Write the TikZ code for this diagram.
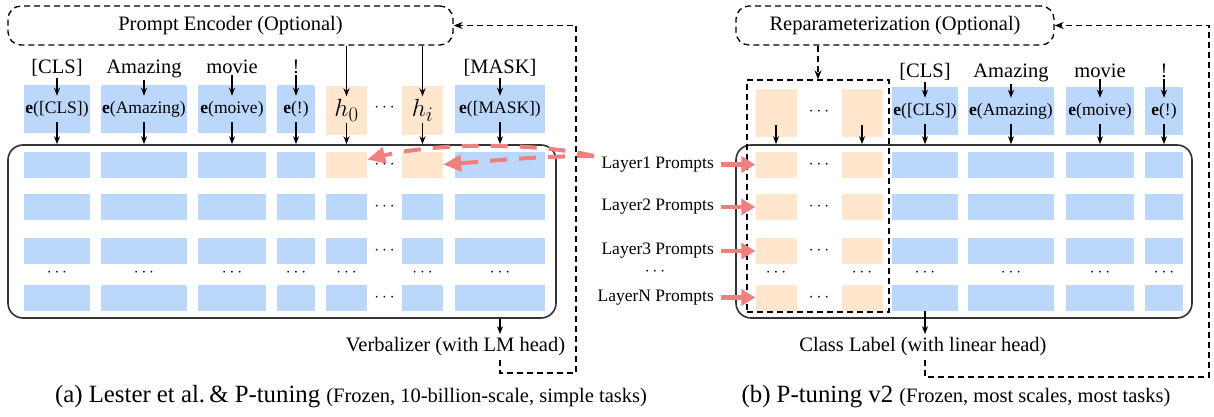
\documentclass[tikz,border=0pt]{standalone}
\usepackage{fontspec}
\setmainfont{Liberation Serif}
\usetikzlibrary{arrows.meta}
\definecolor{cellblue}{RGB}{187,215,251}
\definecolor{cellorange}{RGB}{255,230,204}
\definecolor{promptred}{RGB}{240,128,128}
\tikzset{
  cell/.style={fill=cellblue, inner sep=0pt, minimum height=26pt},
  embbox/.style={fill=cellblue, inner sep=0pt, minimum height=48pt, font=\fontsize{17.5}{20}\selectfont},
  tok/.style={font=\fontsize{20.5}{24}\selectfont, anchor=base, inner sep=1pt},
  lay/.style={font=\fontsize{17.5}{20}\selectfont, inner sep=2pt},
  dots/.style={font=\fontsize{17}{20}\selectfont, inner sep=0pt},
  frame/.style={draw=black!80, line width=1.6pt, rounded corners=15pt, inner sep=0pt},
  dashline/.style={dash pattern=on 6pt off 4pt, line width=1.3pt},
  optbox/.style={draw, dashline, rounded corners=13pt, inner sep=0pt, font=\fontsize{20.5}{24}\selectfont},
  arr/.style={-{Stealth[length=8pt,width=6pt]}, line width=1.2pt},
  fb/.style={dashline, -{Stealth[length=9pt,width=7pt]}},
  redarr/.style={promptred, line width=4.5pt, -{Triangle[length=14pt,width=16pt]}},
  reddash/.style={promptred, line width=4pt, dash pattern=on 17pt off 12pt, -{Triangle[length=18pt,width=16pt]}}
}
\begin{document}
\begin{tikzpicture}[x=1pt,y=-1pt]
\useasboundingbox (0,0) rectangle (1214,417);

% (a) Lester et al. & P-tuning
\node[frame, minimum width=548pt, minimum height=173pt] (frameA) at (282,231.5) {};
\foreach \cx/\w [count=\i] in {57/66, 144/86, 232/68, 296/38, 346.5/41, 422.5/41, 500/90} {
  \foreach \ry [count=\j] in {164.5, 207, 251, 297.5}
    \node[cell, minimum width=\w pt] (a\i-\j) at (\cx,\ry) {};
  \node[dots] at (\cx,273) {$\cdots$};
}
\node[cell, fill=cellorange, minimum width=41pt] (a5-1) at (346.5,164.5) {};
\node[cell, fill=cellorange, minimum width=41pt] (a6-1) at (422.5,164.5) {};
\foreach \ry in {164.5, 207, 251, 297.5}
  \node[dots] at (384.5,\ry) {$\cdots$};

\node[optbox, minimum width=445pt, minimum height=39pt] (enc) at (230.5,25.5) {Prompt Encoder (Optional)};

\node[tok] (t1) at (57,74) {[CLS]};
\node[tok] (t2) at (144,74) {Amazing};
\node[tok] (t3) at (232,74) {movie};
\node[tok] (t4) at (296,74) {!};
\node[tok] (t5) at (500,74) {[MASK]};
\node[embbox, minimum width=66pt] (e1) at (57,109) {\textbf{e}([CLS])};
\node[embbox, minimum width=86pt] (e2) at (144,109) {\textbf{e}(Amazing)};
\node[embbox, minimum width=68pt] (e3) at (232,109) {\textbf{e}(moive)};
\node[embbox, minimum width=38pt] (e4) at (296,109) {\textbf{e}(!)};
\node[embbox, minimum width=90pt] (e5) at (500,109) {\textbf{e}([MASK])};
\node[embbox, fill=cellorange, minimum width=41pt, font=\fontsize{28}{30}\selectfont] (h0) at (346.5,110.5) {$h_0$};
\node[embbox, fill=cellorange, minimum width=41pt, font=\fontsize{28}{30}\selectfont] (hi) at (422.5,110.5) {$h_i$};
\node[dots, font=\fontsize{19}{20}\selectfont] (hdots) at (384.5,108) {$\cdots$};

\foreach \n in {1,...,5} {
  \draw[arr] (t\n.south) -- ([yshift=-11pt]e\n.north);
  \draw[arr] ([yshift=11pt]e\n.south) -- (e\n.south |- frameA.north);
}
\foreach \n in {h0,hi} {
  \draw[arr] (enc.south -| \n.north) -- ([yshift=-10pt]\n.north);
  \draw[arr] ([yshift=12pt]\n.south) -- (\n.south |- frameA.north);
}

\node[font=\fontsize{20.5}{24}\selectfont] (verb) at (455.5,347) {Verbalizer (with LM head)};
\draw[arr] (e5.south |- frameA.south) -- (e5.south |- verb.north);
\coordinate (fbA) at (576,373);
\draw[fb] (e5 |- verb.south) |- (fbA) |- (enc.east);

% (b) P-tuning v2
\node[frame, minimum width=456pt, minimum height=173pt] (frameB) at (964,231.5) {};
\foreach \cx/\w/\c [count=\i] in {776/41/cellorange, 862/41/cellorange, 925/66/cellblue, 1011/86/cellblue, 1100/68/cellblue, 1164/38/cellblue} {
  \foreach \ry [count=\j] in {164.5, 207, 251, 297.5}
    \node[cell, fill=\c, minimum width=\w pt] (b\i-\j) at (\cx,\ry) {};
  \node[dots] at (\cx,273) {$\cdots$};
}
\foreach \ry in {164.5, 207, 251, 297.5}
  \node[dots] at (819,\ry) {$\cdots$};

\node[optbox, minimum width=318pt, minimum height=39pt] (rep) at (895,25.5) {Reparameterization (Optional)};
\node[draw, dashline, minimum width=142pt, minimum height=232pt, inner sep=0pt] (pbox) at (818,196) {};
\draw[fb] (rep.south -| pbox.north) -- (pbox.north);

\node[embbox, fill=cellorange, minimum width=41pt] (p1) at (776,113) {};
\node[embbox, fill=cellorange, minimum width=41pt] (p2) at (862,113) {};
\node[dots] (pdots) at (819,112) {$\cdots$};
\foreach \n in {p1,p2}
  \draw[arr] ([yshift=12pt]\n.south) -- (\n.south |- frameB.north);

\node[tok] (s1) at (925,78) {[CLS]};
\node[tok] (s2) at (1011,78) {Amazing};
\node[tok] (s3) at (1100,78) {movie};
\node[tok] (s4) at (1164,78) {!};
\node[embbox, minimum width=66pt] (r1) at (925,111) {\textbf{e}([CLS])};
\node[embbox, minimum width=86pt] (r2) at (1011,111) {\textbf{e}(Amazing)};
\node[embbox, minimum width=68pt] (r3) at (1100,111) {\textbf{e}(moive)};
\node[embbox, minimum width=38pt] (r4) at (1164,111) {\textbf{e}(!)};
\foreach \n in {1,...,4} {
  \draw[arr] (s\n.south) -- ([yshift=-11pt]r\n.north);
  \draw[arr] ([yshift=11pt]r\n.south) -- (r\n.south |- frameB.north);
}

% layer prompts
\node[lay, anchor=east] (l1) at (716,164.5) {Layer1 Prompts};
\node[lay, anchor=east] (l2) at (716,207) {Layer2 Prompts};
\node[lay, anchor=east] (l3) at (716,251) {Layer3 Prompts};
\node[dots] (ldots) at (655,272) {$\cdots$};
\node[lay, anchor=east] (lN) at (716,297.5) {LayerN Prompts};
\foreach \n/\j in {l1/1, l2/2, l3/3, lN/4}
  \draw[redarr, shorten <=5pt] (\n.east) -- (b1-\j.west);

\coordinate (rs) at (594,156);
\draw[reddash] (rs) .. controls (540,143) and (440,142) .. ([yshift=5pt]a5-1.east);
\draw[reddash] (rs) .. controls (540,156) and (490,161) .. (a6-1.east);

\node[font=\fontsize{20.5}{24}\selectfont] (cls) at (923,347) {Class Label (with linear head)};
\draw[arr] (b3-4.south) -- (b3-4.south |- cls.north);
\coordinate (fbB) at (1209,377);
\draw[fb] (b3-4 |- cls.south) |- (fbB) |- (rep.east);

% captions
\node[font=\fontsize{24.8}{28}\selectfont] (capA) at (351,397) {(a) Lester et al.\,\& P-tuning {\fontsize{20.5}{24}\selectfont(Frozen, 10-billion-scale, simple tasks)}};
\node[font=\fontsize{24.8}{28}\selectfont] (capB) at (956,397) {(b) P-tuning v2 {\fontsize{20.5}{24}\selectfont(Frozen, most scales, most tasks)}};
\end{tikzpicture}
\end{document}
